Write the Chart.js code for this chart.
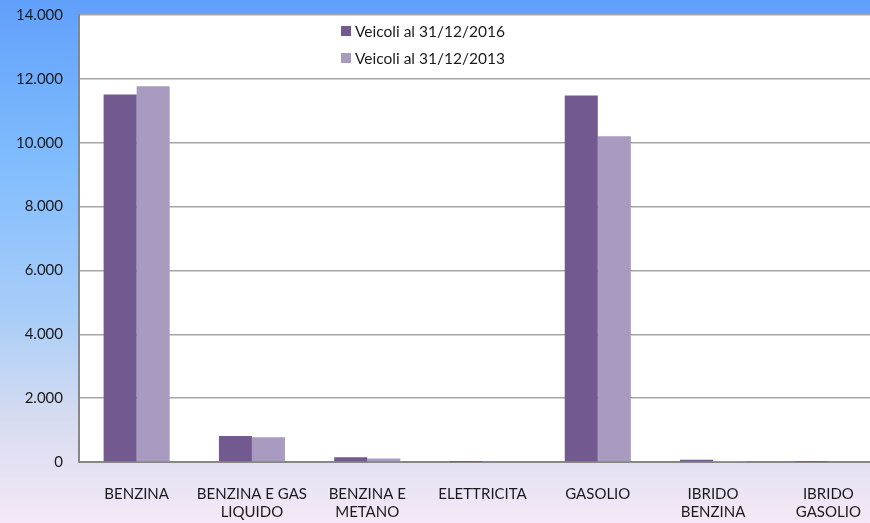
<!DOCTYPE html>
<html><head><meta charset="utf-8">
<script src="https://cdn.jsdelivr.net/npm/chart.js@4.4.1/dist/chart.umd.min.js"></script>
<style>html,body{margin:0;padding:0;overflow:hidden;}#wrap{width:870px;height:523px;overflow:hidden;}</style>
</head><body><div id="wrap"><canvas id="c" width="886" height="523"></canvas></div>
<script>
const categories = [['BENZINA'], ['BENZINA E GAS','LIQUIDO'], ['BENZINA E','METANO'], ['ELETTRICITA'], ['GASOLIO'], ['IBRIDO','BENZINA'], ['IBRIDO','GASOLIO']];
const seriesNames = ['Veicoli al 31/12/2016', 'Veicoli al 31/12/2013'];
const values2016 = [11510, 816, 150, 2, 11480, 70, 1];
const values2013 = [11770, 775, 110, 0, 10200, 10, 0];
const yTicks = [0, 2000, 4000, 6000, 8000, 10000, 12000, 14000];

const FONT = 'Lato, "Open Sans", sans-serif';
function fmt(v){ return String(v).replace(/\B(?=(\d{3})+(?!\d))/g, '.'); }

const bgPlugin = {
  id: 'bg',
  beforeDraw(chart){
    const ctx = chart.ctx, w = chart.width, h = chart.height;
    const g = ctx.createLinearGradient(0,0,0,h);
    g.addColorStop(0, '#60a0fb');
    g.addColorStop(0.3, '#7fbcfd');
    g.addColorStop(0.6, '#a8cdf9');
    g.addColorStop(0.8, '#d6dcf0');
    g.addColorStop(1, '#f6e8f6');
    ctx.save(); ctx.fillStyle = g; ctx.fillRect(0,0,w,h);
    const a = chart.chartArea;
    ctx.fillStyle = '#ffffff'; ctx.fillRect(a.left, a.top, a.right-a.left, a.bottom-a.top);
    ctx.restore();
  },
  afterDraw(chart){
    const ctx = chart.ctx;
    ctx.save();
    ctx.font = '15.5px ' + FONT;
    ctx.textBaseline = 'middle';
    chart.data.datasets.forEach((ds, i) => {
      const y = 31 + i*27;
      ctx.fillStyle = ds.backgroundColor;
      ctx.fillRect(341, y-5, 10, 10);
      ctx.fillStyle = '#1a1a1a';
      ctx.fillText(ds.label, 355, y+1);
    });
    ctx.restore();
  }
};

const chart = new Chart(document.getElementById('c'), {
  type: 'bar',
  data: {
    labels: categories,
    datasets: [
      { label: seriesNames[0], data: values2016, backgroundColor: '#725a91', categoryPercentage: 0.573, barPercentage: 1 },
      { label: seriesNames[1], data: values2013, backgroundColor: '#a99bbf', categoryPercentage: 0.573, barPercentage: 1 }
    ]
  },
  options: {
    responsive: false,
    animation: false,
    devicePixelRatio: 1,
    layout: { padding: { top: 15, right: 0, left: 0, bottom: 0 } },
    plugins: { legend: { display: false }, tooltip: { enabled: false } },
    scales: {
      x: {
        grid: { display: false, drawTicks: false },
        border: { color: '#878787', width: 2 },
        ticks: { color: '#1a1a1a', font: { family: FONT, size: 15, lineHeight: 1.2 }, padding: 23, maxRotation: 0, autoSkip: false },
        afterFit(s){ s.height = 61; s.paddingLeft = 0; s.paddingRight = 0; }
      },
      y: {
        min: 0, max: 14000,
        afterBuildTicks(s){ s.ticks = yTicks.map(v => ({ value: v })); },
        grid: { color: '#a6a6a6', lineWidth: 1.5, drawTicks: false },
        border: { color: '#878787', width: 2 },
        ticks: { color: '#1a1a1a', font: { family: FONT, size: 15 }, padding: 16, callback: v => fmt(v) },
        afterFit(s){ s.width = 79; s.paddingTop = 0; s.paddingBottom = 0; }
      }
    }
  },
  plugins: [bgPlugin]
});
</script></body></html>
